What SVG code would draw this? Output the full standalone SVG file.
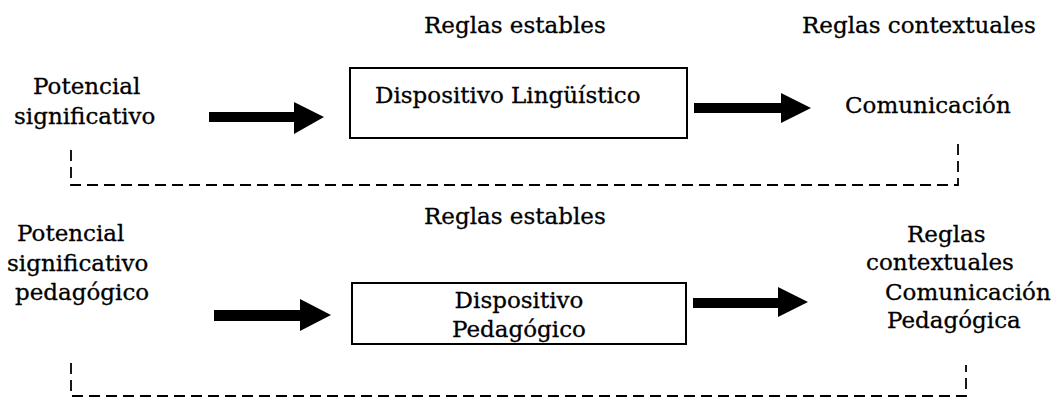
<svg xmlns="http://www.w3.org/2000/svg" width="1060" height="402" viewBox="0 0 1060 402">
<style>
text{font-family:"DejaVu Serif","Liberation Serif",serif;font-size:23px;fill:#000;stroke:#000;stroke-width:0.3}
.box{fill:#fff;stroke:#000;stroke-width:2}
.arrow{fill:#000;stroke:none}
.dash{fill:none;stroke:#000;stroke-width:1.8;stroke-dasharray:11 6}
</style>
<rect width="1060" height="402" fill="#fff"/>
<g id="top-row">
<g id="reglas-estables-1"><text x="424" y="33">Reglas estables</text></g>
<g id="reglas-contextuales-1"><text x="802" y="33">Reglas contextuales</text></g>
<g id="potencial-1"><text x="33" y="94">Potencial</text><text x="14" y="124">significativo</text></g>
<g id="dispositivo-linguistico"><rect class="box" x="350" y="68" width="337" height="70"/><text x="375" y="103">Dispositivo Lingüístico</text></g>
<g id="comunicacion-1"><text x="845" y="113">Comunicación</text></g>
</g>
<g id="bottom-row">
<g id="reglas-estables-2"><text x="424" y="224">Reglas estables</text></g>
<g id="potencial-2"><text x="17" y="241">Potencial</text><text x="7" y="271">significativo</text><text x="15" y="300">pedagógico</text></g>
<g id="dispositivo-pedagogico"><rect class="box" x="352" y="283" width="334" height="61"/><text x="519" y="308" text-anchor="middle">Dispositivo</text><text x="519" y="337" text-anchor="middle">Pedagógico</text></g>
<g id="comunicacion-2"><text x="907" y="242">Reglas</text><text x="866" y="270">contextuales</text><text x="885" y="300">Comunicación</text><text x="887" y="328">Pedagógica</text></g>
</g>
<g id="connectors">
<path class="arrow" d="M209 112 H294 V102 L324 117 L294 134 V122 H209 Z"/>
<path class="arrow" d="M694 103 H781 V93 L811 108 L781 123 V113 H694 Z"/>
<path class="arrow" d="M214 310 H300 V299 L331 315 L300 331 V321 H214 Z"/>
<path class="arrow" d="M693 298 H778 V287 L808 302 L778 317 V308 H693 Z"/>
<path class="dash" d="M71 150 V185 H958 V143"/>
<path class="dash" d="M71 363 V396 H966 V365"/>
</g>
</svg>
